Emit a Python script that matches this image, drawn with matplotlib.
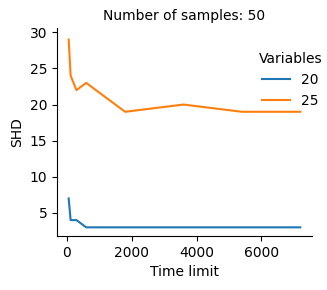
import matplotlib
matplotlib.use("Agg")
import matplotlib.pyplot as plt

# time limits (seconds) and SHD per number of variables
time_limits = [60, 120, 300, 600, 1800, 3600, 5400, 7200]
shd_20 = [7, 4, 4, 3, 3, 3, 3, 3]
shd_25 = [29, 24, 22, 23, 19, 20, 19, 19]
variables = ["20", "25"]

fig = plt.figure(figsize=(3.27, 2.9), dpi=100)
ax = fig.add_axes([57 / 327, 54 / 290, 255 / 327, 208 / 290])

ax.plot(time_limits, shd_20, color="#1f77b4", label=variables[0], linewidth=1.5)
ax.plot(time_limits, shd_25, color="#ff7f0e", label=variables[1], linewidth=1.5)

ax.spines["top"].set_visible(False)
ax.spines["right"].set_visible(False)
ax.set_xlim(-300, 7560)
ax.set_ylim(1.8, 30.6)
ax.set_xticks([0, 2000, 4000, 6000])
ax.set_yticks([5, 10, 15, 20, 25, 30])
ax.tick_params(labelsize=10)
ax.set_xlabel("Time limit", fontsize=10)
ax.set_ylabel("SHD", fontsize=10)
ax.set_title("Number of samples: 50", fontsize=10)

leg = ax.legend(title="Variables", frameon=False, loc="upper right",
                bbox_to_anchor=(1.09, 0.945), fontsize=10, title_fontsize=10)

fig.savefig("out.png", dpi=100)
